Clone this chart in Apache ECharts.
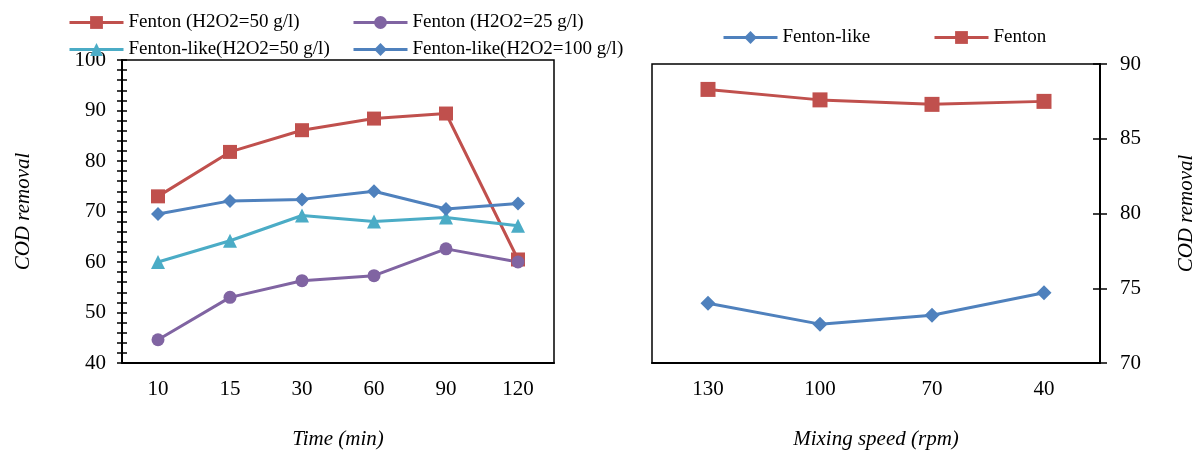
<!DOCTYPE html>
<html>
<head>
<meta charset="utf-8">
<script src="https://cdn.jsdelivr.net/npm/echarts@6/dist/echarts.min.js"></script>
<style>
  html, body { margin: 0; padding: 0; background: #fff; }
  #chart { width: 1198px; height: 450px; }
</style>
</head>
<body>
<div id="chart"></div>
<script>
// left panel: time
var timeCats = ['10', '15', '30', '60', '90', '120'];
var fenton50 = [73.0, 81.8, 86.1, 88.4, 89.4, 60.5];
var fenton25 = [44.6, 53.0, 56.3, 57.3, 62.6, 60.0];
var likeH50 = [60.0, 64.2, 69.2, 68.0, 68.8, 67.2];
var likeH100 = [69.5, 72.1, 72.4, 74.0, 70.5, 71.6];

// right panel: mixing speed
var speedCats = ['130', '100', '70', '40'];
var speedLike = [74.0, 72.6, 73.2, 74.7];
var speedFenton = [88.3, 87.6, 87.3, 87.5];

var RED = '#C0504D', PURPLE = '#8064A2', CYAN = '#4BACC6', BLUE = '#4F81BD';
var FONT = 'Liberation Serif';

var myChart = echarts.init(document.getElementById('chart'));

function lineSeries(name, data, color, symbol, size, xi, yi) {
	return {
		name: name,
		type: 'line',
		xAxisIndex: xi,
		yAxisIndex: yi,
		data: data,
		symbol: symbol,
		symbolSize: size,
		lineStyle: { color: color, width: 3 },
		itemStyle: { color: color },
		animation: false
	};
}

// one legend per item so the columns line up like the original
function legendAt(name, left, top) {
	return {
		left: left, top: top, padding: 0,
		itemWidth: 54, itemHeight: 16,
		lineStyle: { width: 3 },
		textStyle: { fontFamily: FONT, fontSize: 19, color: '#000' },
		data: [name]
	};
}

var axisName = { fontFamily: FONT, fontSize: 21, fontStyle: 'italic', color: '#000' };
var tickLabel = { color: '#000', fontSize: 21, fontFamily: FONT };

myChart.setOption({
	textStyle: { fontFamily: FONT },
	legend: [
		legendAt('Fenton (H2O2=50 g/l)', 68, 13),
		legendAt('Fenton-like(H2O2=50 g/l)', 68, 40),
		legendAt('Fenton (H2O2=25 g/l)', 352, 13),
		legendAt('Fenton-like(H2O2=100 g/l)', 352, 40),
		legendAt('Fenton-like', 722, 28),
		legendAt('Fenton', 933, 28)
	],
	grid: [
		{ left: 122, top: 60, width: 432, height: 303, outerBoundsMode: 'none', show: true, borderColor: '#000', borderWidth: 1.5 },
		{ left: 652, top: 64, width: 448, height: 299, outerBoundsMode: 'none', show: true, borderColor: '#000', borderWidth: 1.5 }
	],
	xAxis: [
		{
			gridIndex: 0, type: 'category', data: timeCats, boundaryGap: true,
			axisLine: { lineStyle: { color: '#000', width: 2 } },
			axisTick: { alignWithLabel: true, length: 6, lineStyle: { color: '#000', width: 1.5 } },
			axisLabel: Object.assign({ margin: 16 }, tickLabel),
			name: 'Time (min)', nameLocation: 'middle', nameGap: 66,
			nameTextStyle: axisName
		},
		{
			gridIndex: 1, type: 'category', data: speedCats, boundaryGap: true,
			axisLine: { lineStyle: { color: '#000', width: 2 } },
			axisTick: { alignWithLabel: true, length: 6, lineStyle: { color: '#000', width: 1.5 } },
			axisLabel: Object.assign({ margin: 16 }, tickLabel),
			name: 'Mixing speed (rpm)', nameLocation: 'middle', nameGap: 66,
			nameTextStyle: axisName
		}
	],
	yAxis: [
		{
			gridIndex: 0, type: 'value', min: 40, max: 100, interval: 10, position: 'left',
			axisLine: { show: true, lineStyle: { color: '#000', width: 2 } },
			axisTick: { show: true, length: 5, lineStyle: { color: '#000', width: 1.5 } },
			minorTick: { show: true, splitNumber: 5, length: 5, lineStyle: { color: '#000', width: 1.5 } },
			splitLine: { show: false },
			axisLabel: Object.assign({ margin: 16 }, tickLabel),
			name: 'COD removal', nameLocation: 'middle', nameGap: 88,
			nameTextStyle: axisName
		},
		{
			// inner half of the crossing ticks
			gridIndex: 0, type: 'value', min: 40, max: 100, interval: 10, position: 'left', offset: 0,
			axisLine: { show: false },
			axisTick: { show: true, inside: true, length: 5, lineStyle: { color: '#000', width: 1.5 } },
			minorTick: { show: true, splitNumber: 5, length: 5, lineStyle: { color: '#000', width: 1.5 } },
			splitLine: { show: false },
			axisLabel: { show: false }
		},
		{
			gridIndex: 1, type: 'value', min: 70, max: 90, interval: 5, position: 'right',
			axisLine: { show: true, lineStyle: { color: '#000', width: 2 } },
			axisTick: { show: true, length: 7, lineStyle: { color: '#000', width: 1.5 } },
			splitLine: { show: false },
			axisLabel: Object.assign({ margin: 20 }, tickLabel),
			name: 'COD removal', nameLocation: 'middle', nameGap: 76, nameRotate: 90,
			nameTextStyle: axisName
		},
		{
			gridIndex: 1, type: 'value', min: 70, max: 90, interval: 5, position: 'right', offset: 0,
			axisLine: { show: false },
			axisTick: { show: true, inside: true, length: 7, lineStyle: { color: '#000', width: 1.5 } },
			splitLine: { show: false },
			axisLabel: { show: false }
		}
	],
	series: [
		lineSeries('Fenton (H2O2=50 g/l)', fenton50, RED, 'rect', 14, 0, 0),
		lineSeries('Fenton (H2O2=25 g/l)', fenton25, PURPLE, 'circle', 13, 0, 0),
		lineSeries('Fenton-like(H2O2=50 g/l)', likeH50, CYAN, 'triangle', 14, 0, 0),
		lineSeries('Fenton-like(H2O2=100 g/l)', likeH100, BLUE, 'diamond', 14, 0, 0),
		lineSeries('Fenton-like', speedLike, BLUE, 'diamond', 15, 1, 2),
		lineSeries('Fenton', speedFenton, RED, 'rect', 15, 1, 2)
	]
});
</script>
</body>
</html>
